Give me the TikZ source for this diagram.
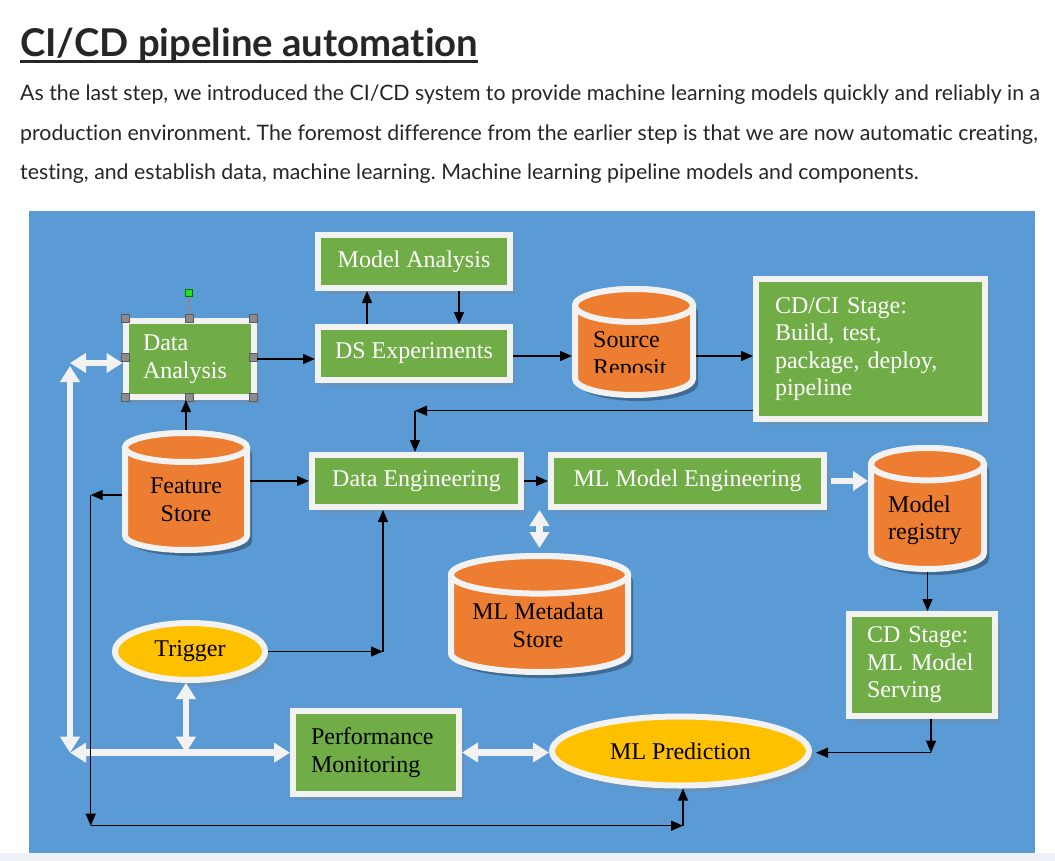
\documentclass[tikz,border=0pt]{standalone}
\usepackage{fontspec}
\setmainfont{Liberation Serif}
\newfontfamily\latofont[Ligatures=NoCommon]{Lato}
\usetikzlibrary{shapes.geometric,arrows.meta,positioning,shadows}
\frenchspacing

\definecolor{bgblue}{HTML}{5B9BD5}
\definecolor{stagegreen}{HTML}{70AD47}
\definecolor{storeorange}{HTML}{ED7D31}
\definecolor{eventyellow}{HTML}{FFC000}
\definecolor{rim}{HTML}{F2F2F2}
\definecolor{inkgray}{HTML}{262626}
\definecolor{pagefoot}{HTML}{EEF2F7}
\definecolor{handlegray}{HTML}{8C8C8C}
\definecolor{gripgreen}{HTML}{22E022}
\newcommand{\diagsize}{\fontsize{24}{27.5}\selectfont}
% store drum: centre x, top, bottom, x radius, y radius
\newcommand{\storeshape}[5]{%
  \fill[storeshade] (#1-#4+5,#2+#5+6) -- (#1-#4+5,#3-#5+6) arc[start angle=180,end angle=360,x radius=#4pt,y radius=#5pt] -- (#1+#4+5,#2+#5+6) arc[start angle=0,end angle=180,x radius=#4pt,y radius=#5pt] -- cycle;
  \filldraw[storeedge] (#1-#4,#2+#5) -- (#1-#4,#3-#5) arc[start angle=180,end angle=360,x radius=#4pt,y radius=#5pt] -- (#1+#4,#2+#5) arc[start angle=0,end angle=180,x radius=#4pt,y radius=#5pt] -- cycle;
  \draw[storeedge] (#1,#2+#5) ellipse[x radius=#4pt,y radius=#5pt];
}

\begin{document}
\begin{tikzpicture}[x=1pt,y=-1pt,
  stage/.style={rectangle,draw=rim,line width=6pt,fill=stagegreen,text=white,inner sep=0pt,font=\diagsize,
    drop shadow={shadow xshift=5pt,shadow yshift=-6pt,opacity=0.3}},
  storebox/.style={rectangle,inner sep=0pt,outer sep=0pt},
  storeedge/.style={draw=rim,fill=storeorange,line width=6pt},
  storeshade/.style={fill=black,opacity=0.3},
  event/.style={ellipse,draw=rim,line width=6pt,fill=eventyellow,inner sep=0pt,font=\diagsize,
    drop shadow={shadow xshift=5pt,shadow yshift=-6pt,opacity=0.3}},
  storetext/.style={inner sep=0pt,align=center,font=\diagsize},
  intro/.style={anchor=base west,inner sep=0pt,text=inkgray,font={\latofont\fontsize{21.3}{25}\selectfont}},
  flow/.style={-{Triangle[length=12pt,width=10pt]},line width=1.4pt},
  pipe/.style={{Triangle[length=16pt,width=19pt]}-{Triangle[length=16pt,width=19pt]},line width=6.5pt,draw=rim},
  pipeone/.style={-{Triangle[length=15pt,width=19pt]},line width=6.5pt,draw=rim},
  handle/.style={rectangle,fill=handlegray,draw=gray!70!black,line width=0.6pt,minimum size=8pt,inner sep=0pt},
  grip/.style={rectangle,fill=gripgreen,draw=green!45!black,line width=0.6pt,minimum size=7pt,inner sep=0pt}]

\useasboundingbox (0,0) rectangle (1055,861);
\fill[white] (0,0) rectangle (1055,861);
\fill[pagefoot] (0,853) rectangle (1055,861);
\fill[bgblue] (29,211) rectangle (1035,853);

% heading and text above the figure
\node[anchor=base west,inner sep=0pt,text=inkgray,font={\latofont\bfseries\fontsize{38.3}{44}\selectfont}] (title) at (20,56.8) {CI/CD pipeline automation};
\draw[inkgray,line width=2.6pt] ([yshift=-4.8pt]title.base west) -- ([yshift=-4.8pt]title.base east);
\node[intro] (intro1) at (20,100.5) {As the last step, we introduced the CI/CD system to provide machine learning models quickly and reliably in a};
\node[intro] (intro2) at (20,140.5) {production environment. The foremost difference from the earlier step is that we are now automatic creating,};
\node[intro] (intro3) at (20,180) {testing, and establish data, machine learning. Machine learning pipeline models and components.};

% stages
\node[stage,minimum width=192pt,minimum height=53pt] (ma) at (414,261.5) {Model Analysis};
\node[stage,minimum width=192pt,minimum height=53pt] (dse) at (414,353.5) {DS Experiments};
\node[stage,minimum width=128pt,minimum height=76pt,text width=93pt,align=left] (da) at (189.5,359) {Data\\Analysis};
\node[stage,minimum width=229pt,minimum height=140pt,text width=191pt,align=left] (cdci) at (870.5,349) {CD/CI Stage:\\Build, test,\\package, deploy,\\pipeline};
\node[stage,minimum width=209pt,minimum height=52pt] (de) at (416.5,481) {Data Engineering};
\node[stage,minimum width=273pt,minimum height=52pt] (mle) at (687.5,481) {ML Model Engineering};
\node[stage,minimum width=146pt,minimum height=102pt,text width=110pt,align=left] (cds) at (922,665) {CD Stage:\\ML Model\\Serving};
\node[stage,minimum width=166pt,minimum height=83pt,text width=130pt,align=left,text=black] (pm) at (376,752.5) {Performance\\Monitoring};

% stores
\storeshape{186}{433}{550}{61}{14.5}
\node[storebox,minimum width=128pt,minimum height=123pt] (fs) at (186,491.5) {};
\node[storetext] (fsText) at (186,500) {Feature\\Store};
\storeshape{634}{289}{395}{59}{16.5}
\node[storebox,minimum width=124pt,minimum height=112pt] (src) at (634,342) {};
\begin{scope}
  \clip (580,320) rectangle (690,372.5);
  \node[storetext,anchor=north west,align=left] (srcText) at (593,331.7) {Source\\Reposit};
\end{scope}
\storeshape{927.5}{448}{569}{56.5}{16.2}
\node[storebox,minimum width=119pt,minimum height=127pt] (mr) at (927.5,508.5) {};
\node[storetext,anchor=west,align=left,text width=75pt] (mrText) at (888,520.4) {Model\\registry};
\storeshape{539.5}{556}{672}{88.5}{18.8}
\node[storebox,minimum width=183pt,minimum height=122pt] (mms) at (539.5,614) {};
\node[storetext] (mmsText) at (538,625.3) {ML Metadata\\Store};

% events
\node[event,minimum width=150pt,minimum height=57pt] (trig) at (190,651.5) {Trigger};
\node[event,minimum width=257pt,minimum height=69pt] (mlp) at (680.5,751) {ML Prediction};

% selection handles
\node[handle] (h1) at (125,318) {};
\node[handle] (h2) at (189,318) {};
\node[handle] (h3) at (253,318) {};
\node[handle] (h4) at (125,357) {};
\node[handle] (h5) at (253,357) {};
\node[handle] (h6) at (125,397) {};
\node[handle] (h7) at (189,397) {};
\node[handle] (h8) at (253,397) {};
\node[grip] (rot) at (189,293) {};
\draw[handlegray,line width=1.2pt] (rot) -- (h2);

% bends
\coordinate (hubTop) at (70,363);
\coordinate (hubBot) at (70,752.7);
\coordinate (bend1) at (415,410.7);
\coordinate (bend2) at (931,752.7);
\coordinate (bend3) at (383,651.5);
\coordinate (bend4) at (90.7,495);
\coordinate (bend5) at (90.7,825.7);
\coordinate (bend6) at (683,825.7);

% white links
\draw[pipe] (hubTop) -- (hubTop -| da.west);
\draw[pipe] (hubBot) -- ([yshift=-3pt]hubTop);
\draw[pipe] (hubBot) -- (hubBot -| pm.west);
\draw[pipe] ([xshift=-4pt]trig.south) -- ([xshift=-4pt]trig.south |- hubBot);
\draw[pipe] (pm.east) -- (pm.east -| mlp.west);
\draw[pipe,shorten >=5pt] (mms.north |- de.south) -- (mms.north);
\draw[pipeone,shorten <=4pt] (mle.east) -- (mle.east -| mr.west);

% black links
\draw[flow] (fs.north) -- (fs.north |- da.south);
\draw[flow] (da.east) -- (da.east -| dse.west);
\draw[flow] ([xshift=-47pt]dse.north) -- ([xshift=-47pt]ma.south);
\draw[flow] ([xshift=45pt]ma.south) -- ([xshift=45pt]dse.north);
\draw[flow] ([yshift=-2.5pt]dse.east) -- ([yshift=-2.5pt]dse.east -| src.west);
\draw[flow] ([yshift=-2.5pt]dse.east -| src.east) -- ([yshift=-2.5pt]dse.east -| cdci.west);
\draw[flow] (cdci.west |- bend1) -- (bend1);
\draw[flow] (bend1) -- (bend1 |- de.north);
\draw[flow] (de.west -| fs.east) -- (de.west);
\draw[flow] (de.east) -- (mle.west);
\draw[flow] (mr.south) -- (mr.south |- cds.north);
\draw[flow] (cds.south -| bend2) -- (bend2);
\draw[flow,shorten >=4pt] (bend2) -- (bend2 -| mlp.east);
\draw[flow] (trig.east) -- (bend3);
\draw[flow] (bend3) -- (bend3 |- de.south);
\draw[flow] (fs.west |- bend4) -- (bend4);
\draw[flow] (bend4) -- (bend5);
\draw[flow] (bend5) -- (bend6);
\draw[flow] (bend6) -- (bend6 |- mlp.south);
\end{tikzpicture}
\end{document}
